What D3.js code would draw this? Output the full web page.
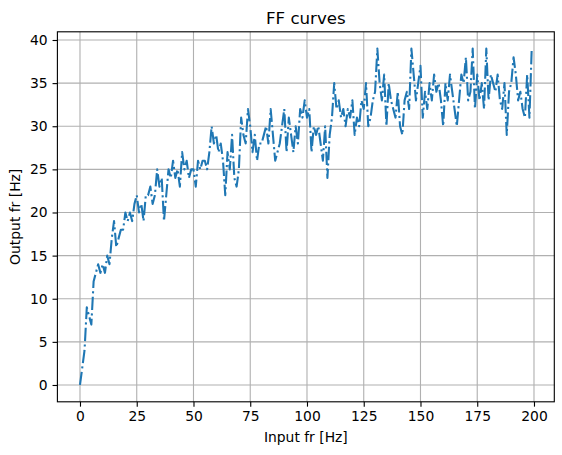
<!DOCTYPE html>
<html>
<head>
<meta charset="utf-8">
<script src="https://cdn.jsdelivr.net/npm/d3@7"></script>
<style>
  html, body { margin: 0; padding: 0; background: #fff; }
  svg { display: block; }
  text { font-family: "DejaVu Sans", sans-serif; fill: #000; }
</style>
</head>
<body>
<svg id="chart" width="562" height="455"></svg>
<script>
const title = "FF curves";
const xLabel = "Input fr [Hz]";
const yLabel = "Output fr [Hz]";
const xTicks = [0, 25, 50, 75, 100, 125, 150, 175, 200];
const yTicks = [0, 5, 10, 15, 20, 25, 30, 35, 40];
const outputFr = [
  0, 2, 4, 9, 8, 7, 12, 13, 14, 13,
  14, 13, 15, 14, 17, 19, 16, 17, 18, 18,
  20, 19, 20, 19, 21, 22, 20, 21, 19, 22,
  22, 23, 21, 22, 25, 23, 24, 19, 22, 25,
  24, 26, 24, 25, 23, 27, 25, 26, 24, 25,
  25, 23, 26, 25, 26, 26, 25, 27, 30, 28,
  29, 27, 28, 26, 22, 27, 25, 29, 24, 23,
  25, 31, 29, 28, 32, 30, 27, 29, 26, 28,
  28, 29, 30, 28, 32, 29, 26, 27, 28, 30,
  32, 27, 31, 29, 27, 30, 28, 32, 31, 33,
  31, 32, 27, 30, 29, 30, 28, 26, 30, 24,
  29, 31, 35, 32, 33, 31, 32, 30, 32, 31,
  33, 29, 31, 30, 33, 32, 35, 30, 31, 33,
  34, 39, 35, 33, 36, 30, 35, 33, 32, 31,
  34, 30, 29, 33, 34, 32, 39, 36, 33, 35,
  37, 31, 34, 32, 35, 33, 36, 34, 35, 33,
  30, 35, 33, 36, 34, 32, 30, 33, 36, 35,
  38, 33, 34, 39, 32, 36, 33, 35, 32, 39,
  33, 36, 35, 34, 36, 33, 32, 35, 29, 34,
  35, 38, 36, 33, 34, 32, 31, 36, 31, 39
];
const inputFr = outputFr.map((_, i) => i);

const svg = d3.select("#chart");
const L = 57.4, R = 554.3, T = 31.8, B = 401.8;
const pt = 100 / 72;

const xMin = d3.min(inputFr), xMax = d3.max(inputFr);
const yMin = d3.min(outputFr), yMax = d3.max(outputFr);
const xPad = (xMax - xMin) * 0.05, yPad = (yMax - yMin) * 0.05;
const x = d3.scaleLinear().domain([xMin - xPad, xMax + xPad]).range([L, R]);
const y = d3.scaleLinear().domain([yMin - yPad, yMax + yPad]).range([B, T]);

// grid
const grid = svg.append("g");
xTicks.forEach(t => {
  if (t < x.domain()[0] || t > x.domain()[1]) return;
  grid.append("line").attr("x1", x(t)).attr("x2", x(t)).attr("y1", T).attr("y2", B)
    .attr("stroke", "#b0b0b0").attr("stroke-width", 0.8 * pt);
});
yTicks.forEach(t => {
  if (t < y.domain()[0] || t > y.domain()[1]) return;
  grid.append("line").attr("y1", y(t)).attr("y2", y(t)).attr("x1", L).attr("x2", R)
    .attr("stroke", "#b0b0b0").attr("stroke-width", 0.8 * pt);
});

// line
const line = d3.line().x((d, i) => x(inputFr[i])).y(d => y(d));
svg.append("path").datum(outputFr)
  .attr("d", line)
  .attr("fill", "none")
  .attr("stroke", "#1f77b4")
  .attr("stroke-width", 1.5 * pt)
  .attr("stroke-linejoin", "round")
  .attr("stroke-dasharray", [9.6 * pt, 2.4 * pt, 1.5 * pt, 2.4 * pt].join(","));

// axes
const xAxis = d3.axisBottom(x).tickValues(xTicks.filter(t => t <= x.domain()[1]))
  .tickSize(3.5 * pt).tickPadding(3.5 * pt).tickFormat(d3.format("d"));
const yAxis = d3.axisLeft(y).tickValues(yTicks.filter(t => t <= y.domain()[1]))
  .tickSize(3.5 * pt).tickPadding(3.5 * pt).tickFormat(d3.format("d"));

const gx = svg.append("g").attr("transform", `translate(0,${B})`).call(xAxis);
const gy = svg.append("g").attr("transform", `translate(${L},0)`).call(yAxis);
[gx, gy].forEach(g => {
  g.select(".domain").remove();
  g.selectAll(".tick line").attr("stroke", "#000").attr("stroke-width", 0.8 * pt);
  g.selectAll(".tick text").attr("font-size", 10 * pt + "px")
    .attr("font-family", "DejaVu Sans").attr("fill", "#000");
});

// frame
svg.append("rect").attr("x", L).attr("y", T).attr("width", R - L).attr("height", B - T)
  .attr("fill", "none").attr("stroke", "#000").attr("stroke-width", 0.8 * pt);

// labels
svg.append("text").attr("x", (L + R) / 2).attr("y", T - 8)
  .attr("text-anchor", "middle").attr("font-size", 12 * pt + "px").text(title);
svg.append("text").attr("x", (L + R) / 2).attr("y", 442)
  .attr("text-anchor", "middle").attr("font-size", 10 * pt + "px").text(xLabel);
svg.append("text").attr("transform", `translate(20,${(T + B) / 2}) rotate(-90)`)
  .attr("text-anchor", "middle").attr("font-size", 10 * pt + "px").text(yLabel);
</script>
</body>
</html>
